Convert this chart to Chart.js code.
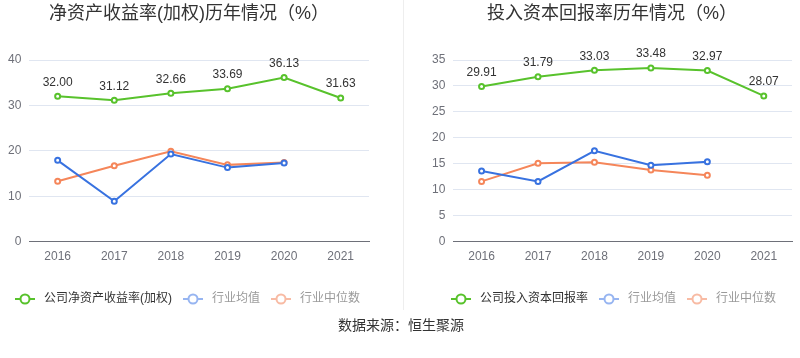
<!DOCTYPE html>
<html lang="zh">
<head>
<meta charset="utf-8"/>
<title>净资产收益率 / 投入资本回报率</title>
<style>
  body, html {
    margin: 0;
    padding: 0;
    background: #fff;
    font-family: 'Liberation Sans', 'Noto Sans CJK SC', sans-serif;
  }
  .wrap {
    position: relative;
    width: 800px;
    height: 358px;
    overflow: hidden;
  }
  .box {
    position: absolute;
    top: 0;
    width: 400px;
    height: 319px;
  }
  .title {
    position: absolute;
    top: 0;
    line-height: 26px;
    font-size: 18px;
    color: #333;
    text-align: center;
    white-space: nowrap;
  }
  .divider {
    position: absolute;
    left: 403px;
    top: 0;
    width: 1px;
    height: 310px;
    background: #eeeeee;
  }
  .source {
    position: absolute;
    top: 314px;
    left: 0;
    width: 802px;
    text-align: center;
    font-size: 14px;
    color: #333;
  }
</style>
</head>
<body>
<div class="wrap">
  <div class="box" style="left:0"><canvas id="roeChart" width="400" height="319"></canvas></div>
  <div class="box" style="left:400px"><canvas id="roicChart" width="400" height="319"></canvas></div>
  <div class="title" style="left:4px;width:370px">净资产收益率(加权)历年情况（%）</div>
  <div class="title" style="left:412px;width:400px">投入资本回报率历年情况（%）</div>
  <div class="divider"></div>
  <div class="source">数据来源：恒生聚源</div>
</div>
<script src="https://cdn.jsdelivr.net/npm/chart.js"></script>
<script>
  const years = ['2016', '2017', '2018', '2019', '2020', '2021'];

  // 净资产收益率(加权)
  const roeCompany = [32.00, 31.12, 32.66, 33.69, 36.13, 31.63];
  const roeAvg = [17.9, 8.9, 19.3, 16.3, 17.3, null];
  const roeMedian = [13.3, 16.7, 19.9, 16.9, 17.4, null];

  // 投入资本回报率
  const roicCompany = [29.91, 31.79, 33.03, 33.48, 32.97, 28.07];
  const roicAvg = [13.6, 11.6, 17.5, 14.7, 15.4, null];
  const roicMedian = [11.6, 15.1, 15.3, 13.8, 12.8, null];

  const GREEN = '#58c22c';
  const BLUE = '#3872e0';
  const ORANGE = '#f5865a';
  const FONT = "'Liberation Sans', 'Noto Sans CJK SC', sans-serif";

  function makeMarker(color) {
    const c = document.createElement('canvas');
    c.width = 20;
    c.height = 12;
    const ctx = c.getContext('2d');
    ctx.strokeStyle = color;
    ctx.lineWidth = 2;
    ctx.beginPath();
    ctx.moveTo(0, 6);
    ctx.lineTo(20, 6);
    ctx.stroke();
    ctx.beginPath();
    ctx.arc(10, 6, 4.5, 0, Math.PI * 2);
    ctx.fillStyle = '#fff';
    ctx.fill();
    ctx.stroke();
    return c;
  }

  // 在公司数据点上方写数值
  const valueLabels = {
    id: 'valueLabels',
    afterDatasetsDraw(chart) {
      const ctx = chart.ctx;
      const meta = chart.getDatasetMeta(0);
      const data = chart.data.datasets[0].data;
      ctx.save();
      ctx.font = '12px ' + FONT;
      ctx.fillStyle = '#333';
      ctx.textAlign = 'center';
      ctx.textBaseline = 'middle';
      meta.data.forEach((pt, i) => {
        if (data[i] == null) return;
        ctx.fillText(data[i].toFixed(2), pt.x, pt.y - 14);
      });
      ctx.restore();
    }
  };

  function lineSet(label, data, color) {
    return {
      label: label,
      data: data,
      borderColor: color,
      backgroundColor: '#fff',
      borderWidth: 2,
      pointRadius: 2.5,
      pointBorderWidth: 2,
      pointBackgroundColor: '#fff',
      pointBorderColor: color,
      tension: 0,
      spanGaps: false
    };
  }

  function buildChart(id, companyLabel, company, avg, median, yMax, step, pad, rightGap) {
    const legendStyle = [
      { marker: makeMarker(GREEN), color: '#333' },
      { marker: makeMarker('#97b5f1'), color: '#9a9a9a' },
      { marker: makeMarker('#f8bba4'), color: '#9a9a9a' }
    ];
    return new Chart(document.getElementById(id), {
      type: 'line',
      data: {
        labels: years,
        datasets: [
          lineSet(companyLabel, company, GREEN),
          lineSet('行业均值', avg, BLUE),
          lineSet('行业中位数', median, ORANGE)
        ]
      },
      options: {
        responsive: false,
        animation: false,
        layout: { padding: pad },
        plugins: {
          tooltip: { enabled: false },
          legend: {
            position: 'bottom',
            labels: {
              usePointStyle: true,
              pointStyleWidth: 26,
              boxHeight: 12,
              padding: 8,
              font: { size: 12, family: FONT },
              generateLabels(chart) {
                return chart.data.datasets.map((ds, i) => ({
                  text: ds.label,
                  pointStyle: legendStyle[i].marker,
                  fontColor: legendStyle[i].color,
                  fillStyle: '#fff',
                  strokeStyle: ds.borderColor,
                  lineWidth: 0,
                  hidden: false,
                  datasetIndex: i
                }));
              }
            }
          }
        },
        scales: {
          x: {
            offset: true,
            grid: { display: false, drawTicks: false },
            border: { display: true, color: '#6e7079', width: 1 },
            ticks: { color: '#6e7079', padding: 8, font: { size: 12, family: FONT } },
            afterFit(scale) { scale.height += 13; }
          },
          y: {
            min: 0,
            max: yMax,
            grid: { color: '#e0e6f1', drawTicks: false },
            border: { display: false },
            ticks: { stepSize: step, color: '#6e7079', padding: 8, font: { size: 12, family: FONT } }
          },
          // 只占右侧空白，不画任何东西
          gap: {
            position: 'right',
            grid: { display: false, drawTicks: false },
            border: { display: false },
            ticks: { display: false },
            afterFit(scale) { scale.width = rightGap; }
          }
        }
      },
      plugins: [valueLabels]
    });
  }

  buildChart('roeChart', '公司净资产收益率(加权)', roeCompany, roeAvg, roeMedian, 40, 10,
    { left: 0, right: 28, top: 60, bottom: 4 }, 3);
  buildChart('roicChart', '公司投入资本回报率', roicCompany, roicAvg, roicMedian, 35, 5,
    { left: 24, right: 0, top: 60, bottom: 4 }, 8);
</script>
</body>
</html>
